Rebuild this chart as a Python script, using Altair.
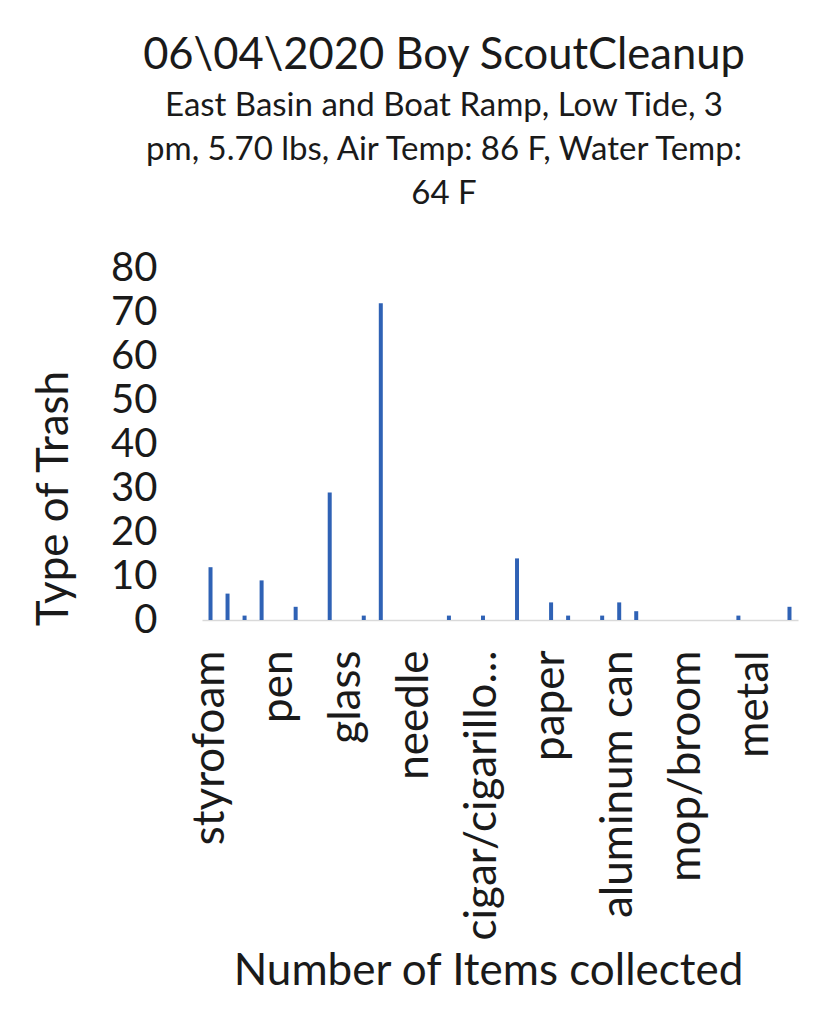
import json
import altair as alt
import pandas as pd

# 35 trash categories; only every 4th label is shown on the axis
idx = list(range(35))
labels = ["styrofoam", "", "", "", "pen", "", "", "", "glass", "", "", "",
          "needle", "", "", "", "cigar/cigarillo…", "", "", "", "paper", "", "", "",
          "aluminum can", "", "", "", "mop/broom", "", "", "", "metal", "", ""]
counts = [12, 6, 1, 9, 0, 3, 0, 29, 0, 1, 72, 0, 0, 0, 1, 0, 1, 0, 14, 0,
          4, 1, 0, 1, 4, 2, 0, 0, 0, 0, 0, 1, 0, 0, 3]
y_ticks = [0, 10, 20, 30, 40, 50, 60, 70, 80]

df = pd.DataFrame({"idx": idx, "count": counts})

FONT = "Lato"
INK = "#1a1a1a"

label_expr = json.dumps(labels) + "[datum.value]"

chart = alt.Chart(df).mark_bar(size=4, color="#2F62B5").encode(
    x=alt.X("idx:O", sort=idx,
            scale=alt.Scale(paddingInner=0, paddingOuter=0),
            axis=alt.Axis(title="Number of Items collected", labelExpr=label_expr,
                          labelAngle=-90, labelFont=FONT, labelFontSize=44,
                          labelColor=INK, labelPadding=30, labelLimit=500, ticks=False,
                          domainColor="#d9d9d9", domainWidth=1.5,
                          titleFont=FONT, titleFontSize=44, titleFontWeight="normal",
                          titleColor=INK, titleX=286, titleY=364,
                          titleBaseline="alphabetic", titleAlign="center")),
    y=alt.Y("count:Q", scale=alt.Scale(domain=[0, 80], nice=False),
            axis=alt.Axis(title="Type of Trash", values=y_ticks, grid=False,
                          domain=False, ticks=False, labelFont=FONT,
                          labelFontSize=40, labelColor=INK, labelPadding=45,
                          titleFont=FONT, titleFontSize=44, titleFontWeight="normal",
                          titleColor=INK, titleAngle=-90, titleX=-135, titleY=230,
                          titleBaseline="alphabetic", titleAlign="center")),
).properties(
    width=596,
    height=352,
    background="white",
    autosize=alt.AutoSizeParams(type="none"),
    padding={"left": 194, "top": 260, "right": 11, "bottom": 400},
    title=alt.TitleParams(
        text="06\\04\\2020 Boy ScoutCleanup",
        subtitle=["East Basin and Boat Ramp, Low Tide, 3",
                  "pm, 5.70 lbs, Air Temp: 86 F, Water Temp:",
                  "64 F"],
        font=FONT, fontSize=43.5, fontWeight="normal", color=INK,
        subtitleFont=FONT, subtitleFontSize=33, subtitleColor=INK,
        subtitleLineHeight=44, subtitlePadding=12,
        anchor="middle", dx=-56, offset=36,
    ),
).configure_view(strokeWidth=0, stroke=None)

chart.save("out.html", embed_options={"renderer": "svg", "actions": False})
